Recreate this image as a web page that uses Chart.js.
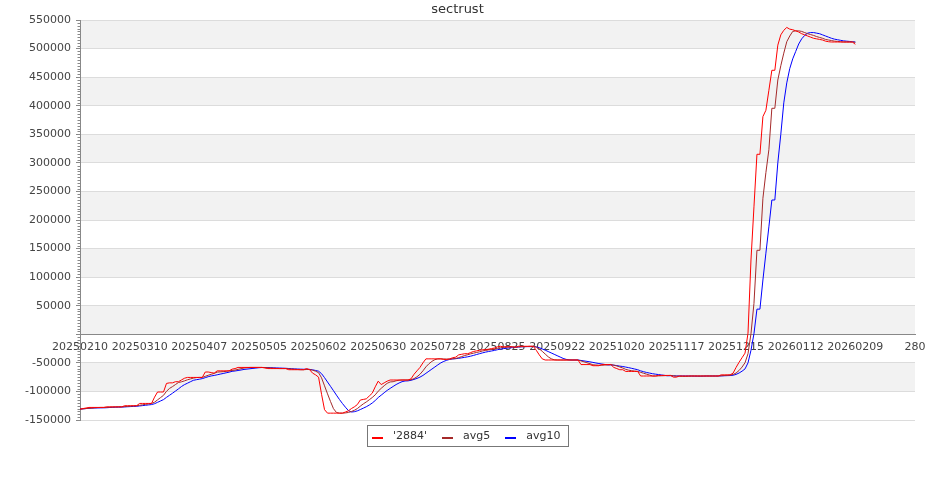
<!DOCTYPE html>
<html>
<head>
<meta charset="utf-8">
<script src="https://cdn.jsdelivr.net/npm/chart.js@4.4.1/dist/chart.umd.min.js"></script>
<style>
html,body{margin:0;padding:0;background:#ffffff;}
#wrap{width:935px;height:500px;position:relative;}
</style>
</head>
<body>
<div id="wrap"><canvas id="c" width="935" height="500"></canvas></div>
<script>
// ---------- data ----------
const chartTitle = 'sectrust';
const tickLabels = ['20250210','20250310','20250407','20250505','20250602','20250630','20250728','20250825','20250922','20251020','20251117','20251215','20260112','20260209','280'];
const seriesNames = ["'2884'", 'avg5', 'avg10'];

const s2884 = [
-131000,-130000,-129000,-128000,-128000,-128000,-128000,-128000,-128000,-127000,
-127000,-127000,-127000,-127000,-127000,-125000,-125000,-125000,-125000,-125000,
-121000,-121000,-121000,-121000,-121000,-110000,-101000,-101000,-101000,-86000,
-85000,-85000,-83000,-83000,-80000,-77000,-75500,-75500,-75500,-75500,
-75500,-75500,-66000,-66000,-67000,-68000,-64000,-64000,-64000,-64000,
-64000,-61000,-60000,-58000,-58000,-58000,-58000,-58000,-58000,-58000,
-58000,-58000,-59000,-60000,-60000,-60000,-60000,-60000,-60000,-60000,
-62000,-62000,-62000,-62000,-62000,-62000,-60000,-62000,-68000,-71000,
-75000,-105000,-132000,-138000,-138000,-138000,-138000,-138000,-138000,-136000,
-134000,-130000,-127000,-123000,-115000,-114000,-113000,-108000,-103000,-92000,
-82000,-88000,-85000,-82000,-80000,-80000,-80000,-80000,-80000,-80000,
-80000,-78000,-70000,-64000,-58000,-50000,-43000,-43000,-43000,-43000,
-43000,-43000,-44000,-44000,-43000,-41000,-40000,-36000,-35000,-34000,
-34000,-32000,-30000,-29000,-28000,-27000,-27000,-26000,-25000,-24000,
-22000,-21000,-22000,-22000,-22000,-22000,-23000,-21000,-21000,-21000,
-21000,-21000,-21000,-28000,-36000,-43000,-45000,-45000,-45000,-45000,
-45000,-45000,-45000,-45000,-45000,-45000,-45000,-45000,-53000,-53000,
-53000,-53000,-55000,-55000,-55000,-53000,-53000,-53000,-53000,-58000,
-60000,-62000,-62000,-65000,-65000,-65000,-65000,-65000,-73000,-73000,
-73000,-73000,-73000,-73000,-72000,-72000,-72000,-72000,-72000,-75000,
-75000,-73000,-73000,-73000,-73000,-73000,-73000,-73000,-73000,-73000,
-73000,-73000,-73000,-73000,-73000,-71000,-71000,-71000,-71000,-68000,
-58000,-49000,-41000,-33000,2000,130000,223000,315000,315000,381000,
392000,427000,462000,462000,506000,524000,532000,537000,534000,533000,
531000,529000,526000,524000,522000,520000,518000,517000,516000,515000,
513000,512000,511500,511500,511500,511500,511500,511500,511500,511500,
507500
];

const avg5 = [
-131000,-130500,-130000,-129500,-129200,-128600,-128200,-128000,-128000,-127800,
-127600,-127400,-127200,-127000,-127000,-126600,-126200,-125800,-125400,-125000,
-124200,-123400,-122600,-121800,-121000,-118800,-114800,-110800,-106800,-99800,
-94800,-91600,-88000,-84400,-83200,-81600,-79700,-78200,-76700,-75800,
-75500,-75500,-73600,-71700,-70000,-68500,-66200,-65800,-65400,-64800,
-64000,-63400,-62600,-61400,-60200,-59000,-58400,-58000,-58000,-58000,
-58000,-58000,-58200,-58600,-59000,-59400,-59800,-60000,-60000,-60000,
-60400,-60800,-61200,-61600,-62000,-62000,-61600,-61600,-62800,-64600,
-67200,-76200,-90200,-104200,-117600,-130200,-136800,-138000,-138000,-137600,
-136800,-135200,-133000,-130000,-125800,-121800,-118400,-114600,-110600,-106000,
-99600,-94600,-90000,-85800,-83400,-83000,-81400,-80400,-80000,-80000,
-80000,-79600,-77600,-74400,-70000,-64000,-57000,-51600,-47400,-44400,
-43000,-43000,-43200,-43400,-43400,-43000,-42400,-40800,-39000,-37200,
-35800,-34200,-33000,-31800,-30600,-29200,-28200,-27400,-26600,-25800,
-24800,-23600,-22800,-22200,-21800,-21800,-22200,-22000,-21800,-21600,
-21400,-21000,-21000,-22400,-25400,-29800,-34600,-39400,-42800,-44600,
-45000,-45000,-45000,-45000,-45000,-45000,-45000,-45000,-46600,-48200,
-49800,-51400,-53400,-53800,-54200,-54200,-53800,-53400,-53000,-54000,
-55400,-57200,-59000,-61400,-62800,-63800,-64400,-65000,-66600,-68200,
-69800,-71400,-73000,-73000,-72800,-72600,-72400,-72200,-72000,-72600,
-73200,-73400,-73600,-73800,-73400,-73000,-73000,-73000,-73000,-73000,
-73000,-73000,-73000,-73000,-73000,-72600,-72200,-71800,-71400,-70400,
-67800,-63400,-57400,-49800,-34000,1000,54000,147000,147000,238000,
283000,323000,395500,395500,445000,470000,492000,512000,522000,530000,
531000,531000,530000,528000,526000,524500,523000,521000,519500,518000,
516000,515000,514000,513000,512500,512000,511500,511500,511500,511500,
511000
];

const avg10 = [
-131000,-130500,-130000,-129500,-129200,-129000,-128900,-128800,-128700,-128500,
-128100,-127800,-127600,-127500,-127400,-127100,-126800,-126500,-126200,-126000,
-125400,-124800,-124200,-123600,-123000,-121500,-119100,-116700,-114300,-110400,
-106800,-103200,-99400,-95600,-91500,-88200,-85700,-83100,-80600,-79500,
-78600,-77600,-75900,-74200,-72900,-72000,-70900,-69700,-68600,-67400,
-66300,-64800,-64200,-63400,-62500,-61500,-60900,-60300,-59700,-59100,
-58500,-58200,-58100,-58300,-58500,-58700,-58900,-59100,-59300,-59500,
-59900,-60300,-60600,-60800,-61000,-61200,-61200,-61400,-62200,-63300,
-64600,-68900,-75900,-83500,-91100,-98700,-106500,-114100,-121100,-127600,
-133500,-136000,-135500,-134000,-131700,-129300,-126800,-123800,-120300,-115900,
-110700,-106500,-102300,-98200,-94700,-91300,-88000,-85200,-82900,-81700,
-81500,-80500,-79000,-77200,-75000,-72000,-68300,-64600,-60900,-57200,
-53500,-50000,-47400,-45400,-43900,-43000,-42700,-42000,-41200,-40300,
-39400,-38300,-36900,-35400,-33900,-32500,-31200,-30200,-29200,-28200,
-27000,-25900,-25100,-24400,-23800,-23300,-22900,-22400,-22000,-21700,
-21600,-21600,-21500,-22100,-23500,-25600,-27800,-30200,-32600,-35000,
-37400,-39800,-42200,-43900,-44800,-45000,-45000,-45000,-45800,-46600,
-47400,-48200,-49200,-50200,-51200,-52000,-52800,-53600,-53600,-54100,
-54800,-55700,-56400,-57400,-58400,-59600,-60800,-62000,-64000,-65500,
-66800,-67900,-69000,-69800,-70500,-71200,-71900,-72600,-72500,-72700,
-72900,-72900,-72900,-72900,-73000,-73100,-73200,-73300,-73400,-73200,
-73000,-73000,-73000,-73000,-73000,-72800,-72600,-72400,-72200,-71700,
-70200,-67800,-64600,-60600,-50000,-28000,1000,44000,44000,95000,
142000,188000,235000,235000,300000,350000,405000,440000,465000,482000,
495000,508000,517000,523000,527000,528000,528000,527000,526000,524000,
522000,520000,518000,516500,515500,514500,513500,513000,512500,512000,
511500
];

const seriesValues = [s2884, avg5, avg10];
const seriesColors = ['#ff0000', '#a52a2a', '#0000ff'];

// ---------- plugins ----------
const FONT = '"DejaVu Sans", "Liberation Sans", sans-serif';

const bandPlugin = {
  id: 'bands',
  beforeDraw(chart) {
    const {ctx, chartArea: a, scales: {y}} = chart;
    ctx.save();
    ctx.fillStyle = '#ffffff';
    ctx.fillRect(0, 0, chart.width, chart.height);
    const ticks = y.ticks.map(t => t.value).sort((p, q) => q - p);
    ctx.fillStyle = '#f2f2f2';
    for (let j = 0; j < ticks.length - 1; j++) {
      if (j % 2 === 0) {
        const y1 = y.getPixelForValue(ticks[j]);
        const y2 = y.getPixelForValue(ticks[j + 1]);
        ctx.fillRect(a.left, y1, a.right - a.left, y2 - y1);
      }
    }
    ctx.restore();
  }
};

const minorTickPlugin = {
  id: 'minorTicks',
  afterDraw(chart) {
    const {ctx, scales: {y}, chartArea: a} = chart;
    ctx.save();
    ctx.strokeStyle = '#888888';
    ctx.lineWidth = 1;
    ctx.beginPath();
    for (let v = y.min; v <= y.max; v += 5000) {
      if (v % 50000 === 0) continue;
      const py = Math.round(y.getPixelForValue(v)) + 0.5;
      ctx.moveTo(a.left - 2.5, py);
      ctx.lineTo(a.left, py);
    }
    ctx.stroke();
    ctx.restore();
  }
};

const boxedLegendPlugin = {
  id: 'boxedLegend',
  afterDraw(chart) {
    const ctx = chart.ctx;
    ctx.save();
    ctx.font = '11px ' + FONT;
    const items = chart.data.datasets.map(d => ({label: d.label, color: d.borderColor, w: ctx.measureText(d.label).width}));
    const padL = 4.5, sw = 11, gap = 10, itemGap = 15, padR = 8;
    const total = padL + padR + items.reduce((s, it) => s + sw + gap + it.w, 0) + itemGap * (items.length - 1);
    const left = Math.round((chart.width - total) / 2) + 0.5;
    const top = Math.round(chart.chartArea.bottom) + 5.5;
    const h = 21;
    ctx.fillStyle = '#ffffff';
    ctx.fillRect(left, top, total, h);
    ctx.strokeStyle = '#777777';
    ctx.lineWidth = 1;
    ctx.strokeRect(left, top, Math.round(total), h);
    let x = left + padL;
    ctx.textAlign = 'left';
    ctx.textBaseline = 'middle';
    items.forEach(it => {
      ctx.fillStyle = it.color;
      ctx.fillRect(Math.round(x), top + 11.5, sw, 2);
      x += sw + gap;
      ctx.fillStyle = '#333333';
      ctx.fillText(it.label, x, top + 10.5);
      x += it.w + itemGap;
    });
    ctx.restore();
  }
};

// ---------- chart ----------
Chart.defaults.font.family = FONT;
Chart.defaults.font.size = 11;
Chart.defaults.color = '#444444';

const datasets = seriesNames.map((name, k) => ({
  label: name,
  data: seriesValues[k].map((v, i) => ({x: i, y: v})),
  borderColor: seriesColors[k],
  backgroundColor: seriesColors[k],
  borderWidth: 1,
  pointRadius: 0,
  pointHoverRadius: 0,
  tension: 0,
  fill: false
}));

new Chart(document.getElementById('c'), {
  type: 'line',
  data: {datasets},
  plugins: [bandPlugin, minorTickPlugin, boxedLegendPlugin],
  options: {
    responsive: false,
    animation: false,
    devicePixelRatio: 1,
    layout: {padding: {left: 0, right: 20, top: 0, bottom: 80}},
    plugins: {
      legend: {display: false},
      tooltip: {enabled: false},
      title: {
        display: true,
        text: chartTitle,
        color: '#333333',
        font: {size: 13, weight: 'normal', family: FONT},
        padding: {top: 2, bottom: 2.4}
      }
    },
    scales: {
      x: {
        type: 'linear',
        min: 0,
        max: 280,
        position: {y: 0},
        grid: {display: false, drawTicks: false},
        border: {display: true, color: '#888888', width: 1},
        ticks: {
          stepSize: 20,
          autoSkip: false,
          maxRotation: 0,
          minRotation: 0,
          padding: 6,
          color: '#444444',
          font: {size: 11},
          callback: v => { const k = Math.round(v / 20); return tickLabels[k] !== undefined ? tickLabels[k] : ''; }
        }
      },
      y: {
        min: -150000,
        max: 550000,
        afterFit(s) { s.width = 80; },
        grid: {color: '#dcdcdc', tickColor: '#888888', tickLength: 4, drawTicks: true},
        border: {display: true, color: '#888888', width: 1},
        ticks: {
          stepSize: 50000,
          autoSkip: false,
          padding: 5,
          color: '#444444',
          font: {size: 11},
          callback: v => (v === 0 ? '' : String(v))
        }
      }
    }
  }
});
</script>
</body>
</html>
